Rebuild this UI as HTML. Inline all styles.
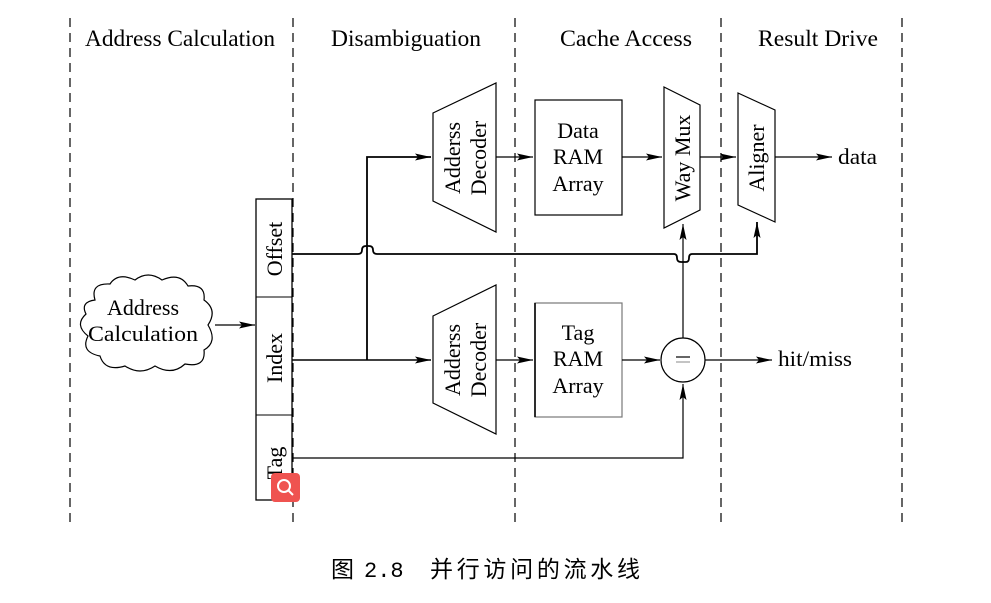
<!DOCTYPE html>
<html><head><meta charset="utf-8"><style>
html,body{margin:0;padding:0;background:#fff;}
svg{display:block;}
text{font-family:"Liberation Serif",serif;fill:#000;}
</style></head><body>
<svg width="991" height="603" viewBox="0 0 991 603" xmlns="http://www.w3.org/2000/svg">
<defs>
<marker id="a" markerWidth="16" markerHeight="10" refX="16" refY="5" orient="auto" markerUnits="userSpaceOnUse">
<path d="M0,1.5 L16,5 L0,8.5 L3,5 Z" fill="#000"/></marker>
</defs>
<g stroke="#000" stroke-width="1.2" stroke-dasharray="9,6">
<line x1="70" y1="18" x2="70" y2="525"/>
<line x1="293" y1="18" x2="293" y2="525"/>
<line x1="515" y1="18" x2="515" y2="525"/>
<line x1="721" y1="18" x2="721" y2="525"/>
<line x1="902" y1="18" x2="902" y2="525"/>
</g>
<g font-size="23" text-anchor="middle">
<text x="180" y="46" textLength="190" lengthAdjust="spacingAndGlyphs">Address Calculation</text>
<text x="406" y="46" textLength="150" lengthAdjust="spacingAndGlyphs">Disambiguation</text>
<text x="626" y="46" textLength="132" lengthAdjust="spacingAndGlyphs">Cache Access</text>
<text x="818" y="46" textLength="120" lengthAdjust="spacingAndGlyphs">Result Drive</text>
</g>
<!-- cloud -->
<path d="M95,300 Q90,283 110,284 Q118,272 135,280 Q148,270 162,280 Q180,272 188,286 Q206,284 204,300 Q218,310 208,325 Q218,342 204,350 Q206,368 185,364 Q172,376 155,366 Q140,376 125,366 Q105,372 100,356 Q80,352 88,336 Q74,325 86,314 Q80,302 95,300 Z" fill="#fff" stroke="#000" stroke-width="1.2"/>
<text x="143" y="315" font-size="22" text-anchor="middle">Address</text>
<text x="143" y="341" font-size="22" text-anchor="middle" textLength="110" lengthAdjust="spacingAndGlyphs">Calculation</text>
<line x1="215" y1="325" x2="255" y2="325" stroke="#000" stroke-width="1.3" marker-end="url(#a)"/>
<!-- field box -->
<rect x="256" y="199" width="36" height="301" fill="#fff" stroke="#000" stroke-width="1.3"/>
<line x1="256" y1="297" x2="292" y2="297" stroke="#000"/>
<line x1="256" y1="415" x2="292" y2="415" stroke="#000"/>
<g font-size="22" text-anchor="middle">
<text transform="translate(282,249) rotate(-90)">Offset</text>
<text transform="translate(282,358) rotate(-90)">Index</text>
<text transform="translate(282,463) rotate(-90)">Tag</text>
</g>
<rect x="271" y="473" width="29" height="29" rx="4" fill="#ef5350"/>
<circle cx="284" cy="486" r="6" fill="none" stroke="#fff" stroke-width="2"/>
<line x1="288" y1="490" x2="293" y2="495" stroke="#fff" stroke-width="2"/>
<g fill="none" stroke="#000" stroke-width="1.5">
<path d="M292,360 L431,360" marker-end="url(#a)"/>
<path d="M367,360 L367,157 L431,157" stroke-width="1.8" marker-end="url(#a)"/>
<path d="M292,254 L358,254 Q362,254 362,250 Q362,246 366,246 L369,246 Q373,246 373,250 Q373,254 377,254 L674,254 Q677,254 677,258 Q677,262 681,262 L686,262 Q689,262 689,258 Q689,254 692,254 L757,254 L757,222" stroke-width="1.8" marker-end="url(#a)"/>
<path d="M292,458 L683,458 L683,384" stroke-width="1.2" marker-end="url(#a)"/>
<path d="M683,338 L683,224" stroke-width="1.2" marker-end="url(#a)"/>
</g>
<g fill="none" stroke="#000" stroke-width="1.2">
<polygon points="433,113 496,83 496,232 433,201" fill="#fff"/>
<polygon points="433,316 496,285 496,434 433,403" fill="#fff"/>
<rect x="535" y="100" width="87" height="115"/>
<rect x="535" y="303" width="87" height="114" stroke="#777"/>
<line x1="535" y1="303" x2="535" y2="417" stroke-width="1.6"/>
<polygon points="664,87 700,105 700,210 664,228" fill="#fff"/>
<polygon points="738,93 775,110 775,222 738,205" fill="#fff"/>
<circle cx="683" cy="360" r="22"/>
<line x1="496" y1="157" x2="533" y2="157" marker-end="url(#a)"/>
<line x1="622" y1="157" x2="662" y2="157" marker-end="url(#a)"/>
<line x1="700" y1="157" x2="736" y2="157" marker-end="url(#a)"/>
<line x1="775" y1="157" x2="832" y2="157" marker-end="url(#a)"/>
<line x1="496" y1="360" x2="533" y2="360" marker-end="url(#a)"/>
<line x1="622" y1="360" x2="660" y2="360" marker-end="url(#a)"/>
<line x1="705" y1="360" x2="772" y2="360" marker-end="url(#a)"/>
</g>
<line x1="676" y1="357" x2="690" y2="357" stroke="#000" stroke-width="1.2"/>
<line x1="676" y1="362" x2="690" y2="362" stroke="#888" stroke-width="1"/>
<g font-size="22" text-anchor="middle">
<text transform="translate(460,158) rotate(-90)">Adderss</text>
<text transform="translate(486,158) rotate(-90)">Decoder</text>
<text transform="translate(460,360) rotate(-90)">Adderss</text>
<text transform="translate(486,360) rotate(-90)">Decoder</text>
<text x="578" y="138">Data</text>
<text x="578" y="164">RAM</text>
<text x="578" y="191">Array</text>
<text x="578" y="340">Tag</text>
<text x="578" y="366">RAM</text>
<text x="578" y="393">Array</text>
<text transform="translate(690,158) rotate(-90)">Way Mux</text>
<text transform="translate(764,158) rotate(-90)">Aligner</text>
</g>
<text x="838" y="164" font-size="22" textLength="39" lengthAdjust="spacingAndGlyphs">data</text>
<text x="778" y="366" font-size="22" textLength="74" lengthAdjust="spacingAndGlyphs">hit/miss</text>
<g font-size="23" fill="#333" style='font-family:"Noto Serif CJK SC","Noto Sans CJK SC",serif'>
<text x="331" y="577" fill="#333">图</text>
<text x="364" y="577" fill="#333" style='font-family:"Liberation Mono",monospace' font-size="22">2.8</text>
<text x="430" y="577" fill="#333" textLength="210" lengthAdjust="spacing">并行访问的流水线</text>
</g>
</svg>
</body></html>
